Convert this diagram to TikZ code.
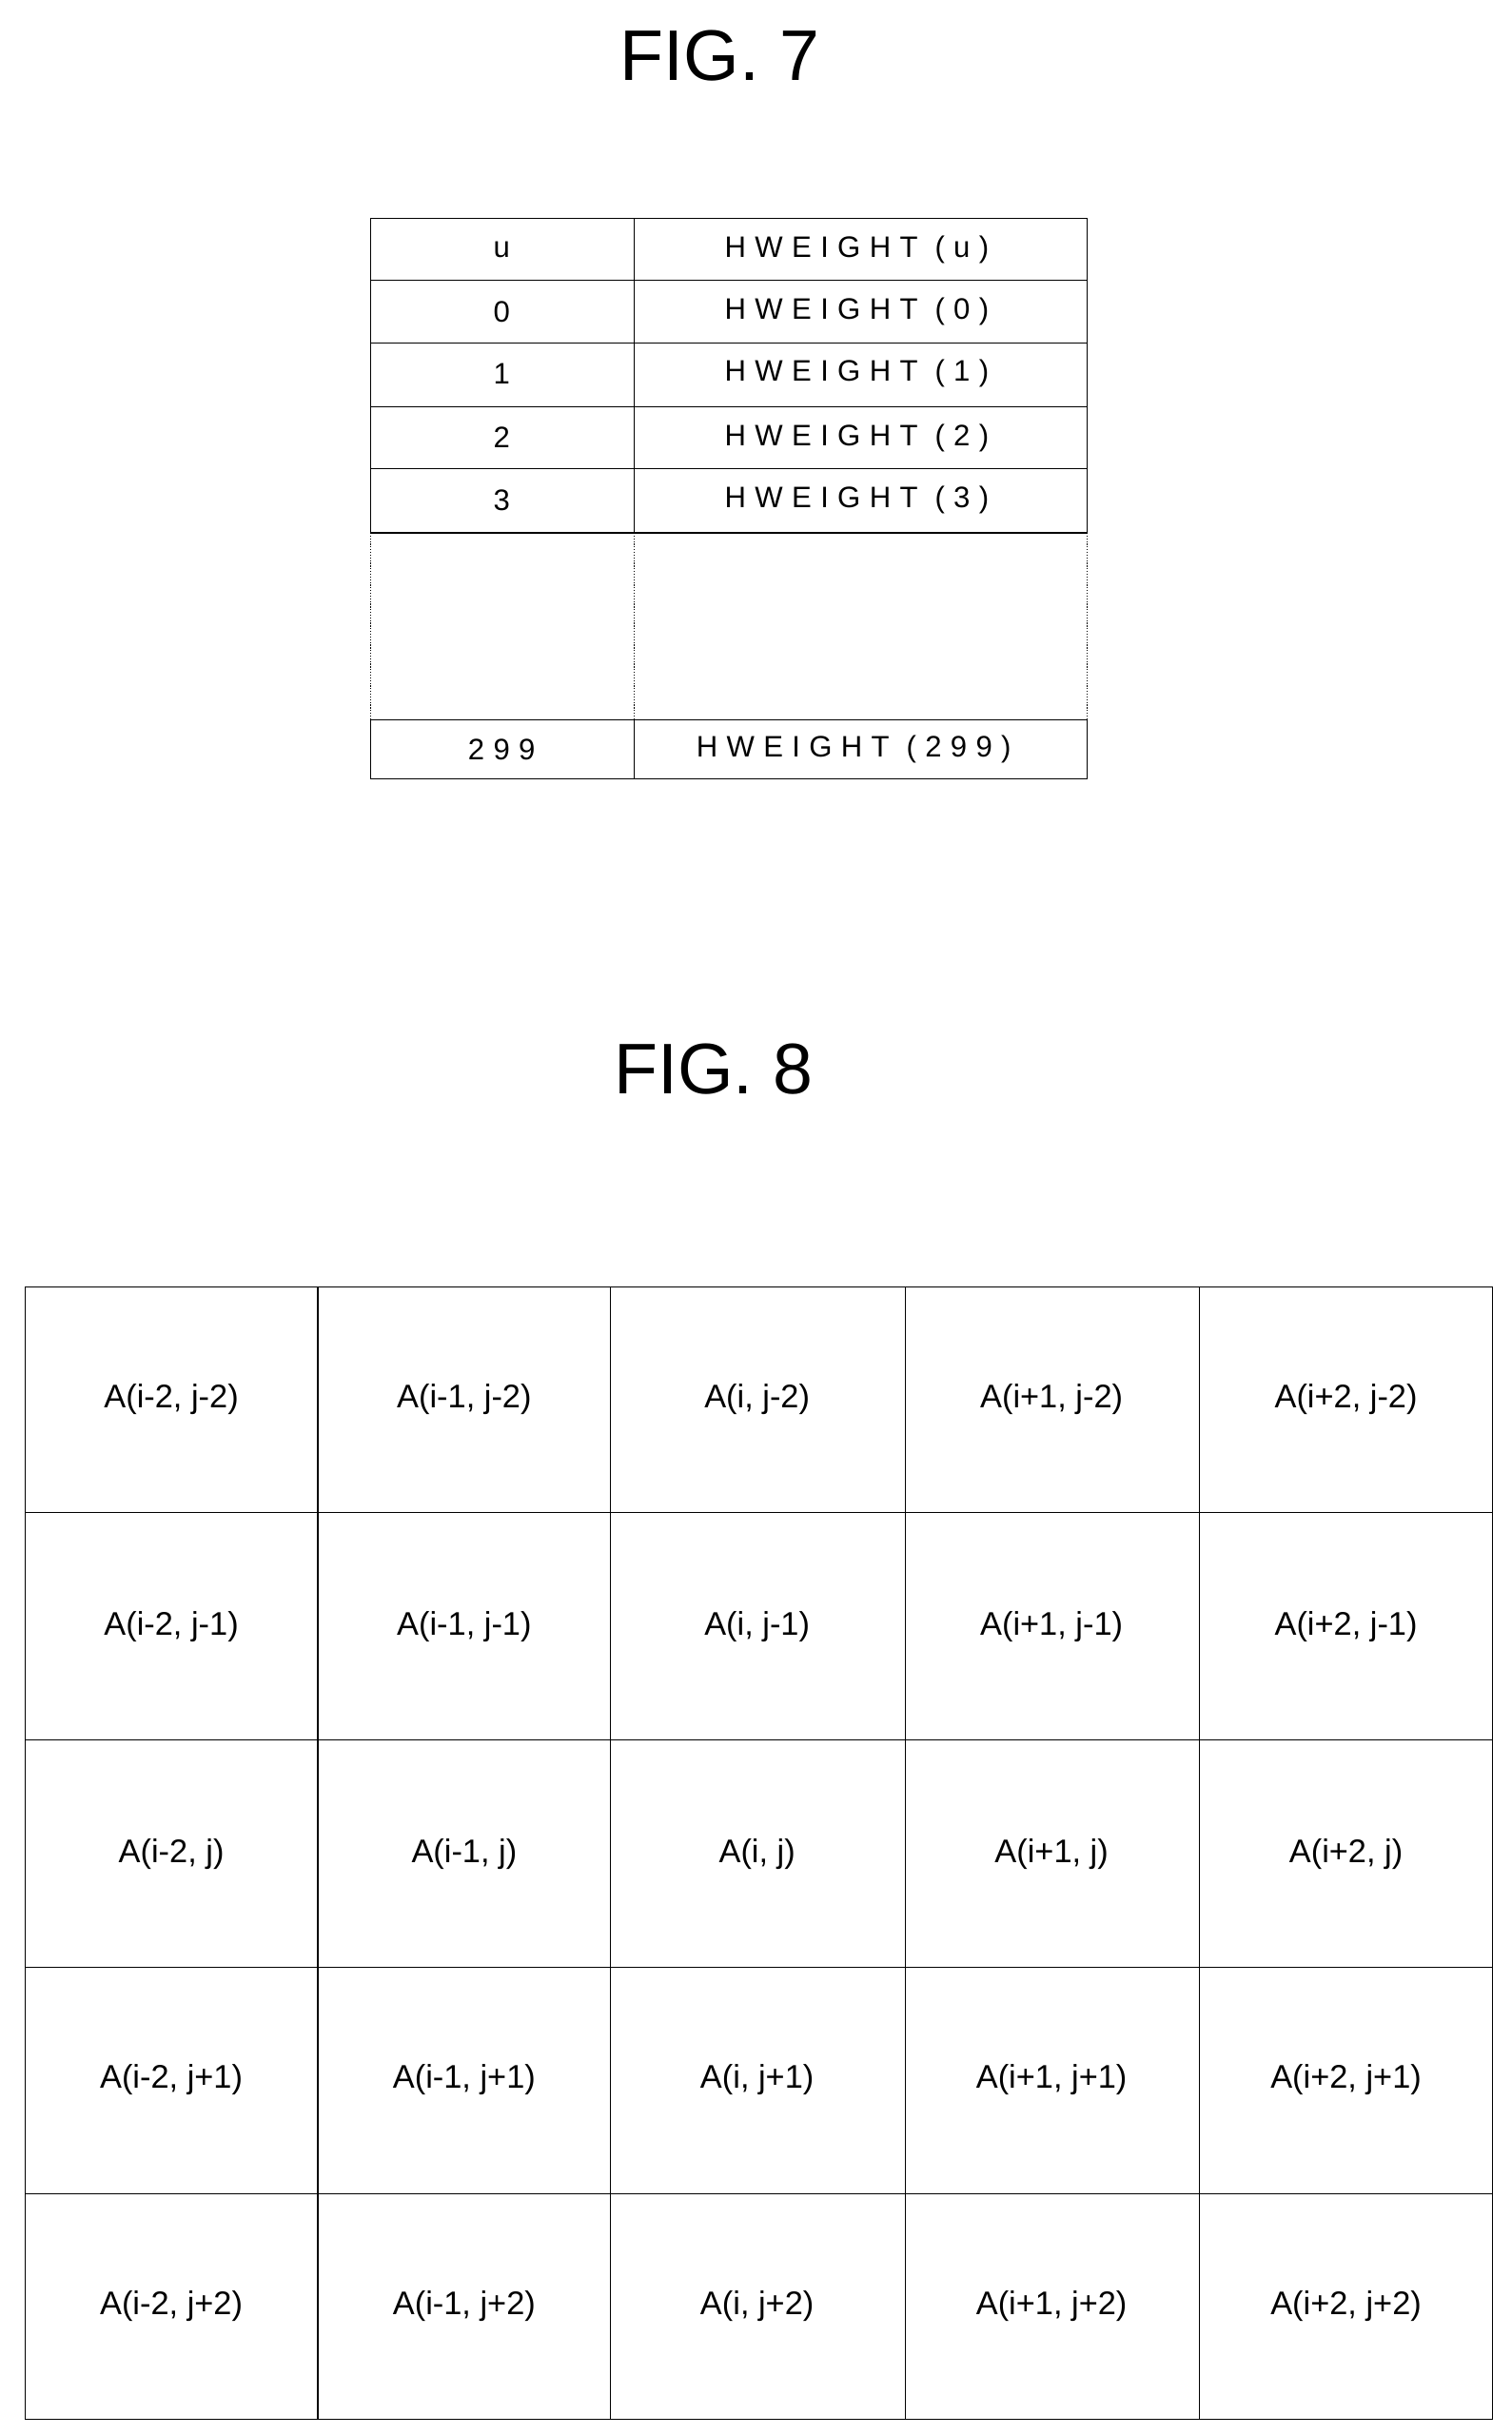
\documentclass[tikz,border=0pt]{standalone}
\usepackage{fontspec}
\setmainfont{Liberation Sans}
\tikzset{every picture/.style={line width=0.75pt}}
\tikzset{
  figtitle/.style={font=\fontsize{46}{50}\selectfont},
  tabtext/.style={font=\fontsize{19}{22}\selectfont\addfontfeatures{LetterSpace=30}},
  celltext/.style={font=\fontsize{21}{24}\selectfont}
}
\begin{document}
\begin{tikzpicture}[x=1pt,y=1pt,yscale=-1,xscale=1]
		\useasboundingbox (0,0) rectangle (970,1563);

		% Titles
		\node (fig7) [figtitle] at (462,36) {FIG. 7};
		\node (fig8) [figtitle] at (458,686) {FIG. 8};

		% Table of FIG. 7
		\draw (238,140) rectangle (698,342);
		\draw (238,462) rectangle (698,500);
		\foreach \y in {180,220,261,301} \draw (238,\y) -- (698,\y);
		\draw (407,140) -- (407,342);
		\draw (407,462) -- (407,500);
		\draw [densely dotted] (238,342) -- (238,462);
		\draw [densely dotted] (407,342) -- (407,462);
		\draw [densely dotted] (698,342) -- (698,462);

		\foreach \k/\y/\u in {0/160/u,1/200/0,2/240/1,3/281/2,4/321/3}{
			\node (u\k) [tabtext] at (322,\y) {\u};
			\node (h\k) [tabtext] at (550,\y) {HWEIGHT (\u)};
		}
		\node (ulast) [tabtext] at (322,481) {299};
		\node (hlast) [tabtext] at (548,481) {HWEIGHT (299)};

		% Grid of FIG. 8
		\draw (16,826) rectangle (958,1553);
		\foreach \x in {204,392,581,770} \draw (\x,826) -- (\x,1553);
		\foreach \y in {971,1117,1263,1408} \draw (16,\y) -- (958,\y);

		\foreach \c/\x/\i in {0/110/i-2,1/298/i-1,2/486/i,3/675/i+1,4/864/i+2}{
			\foreach \r/\y/\j in {0/898/j-2,1/1044/j-1,2/1190/j,3/1335/j+1,4/1480/j+2}{
				\node (a\c\r) [celltext] at (\x,\y) {A(\i, \j)};
			}
		}
\end{tikzpicture}
\end{document}
